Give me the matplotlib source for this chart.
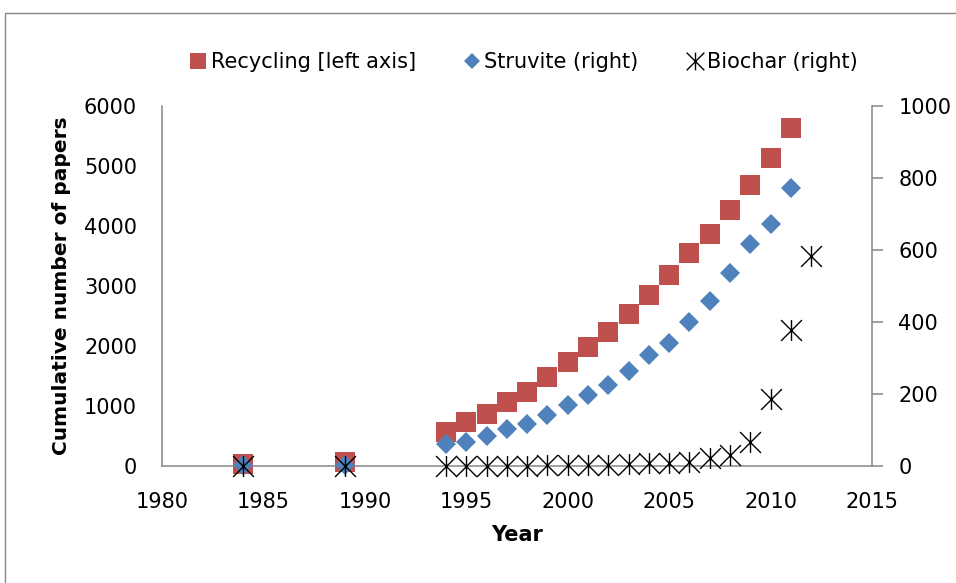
import numpy as np
import matplotlib
matplotlib.use("Agg")
import matplotlib.pyplot as plt
from matplotlib.path import Path
from matplotlib.patches import Rectangle


# cumulative number of papers
years_rec = [1984, 1989] + list(range(1994, 2012))
recycling = [40, 60, 560, 730, 870, 1060, 1230, 1480, 1730, 1980, 2230,
             2540, 2850, 3180, 3550, 3860, 4260, 4690, 5130, 5630]

years_str = [1984, 1989] + list(range(1994, 2012))
struvite = [2, 2, 62, 67, 84, 102, 118, 141, 170, 198, 226,
            263, 307, 343, 399, 459, 537, 616, 672, 773]

years_bio = [1984, 1989] + list(range(1994, 2013))
biochar = [0, 0, 0, 0, 0, 1, 1, 2, 3, 4, 4,
           5, 7, 9, 12, 22, 30, 68, 186, 377, 582]

x_ticks = list(range(1980, 2016, 5))
left_ticks = list(range(0, 6001, 1000))
right_ticks = list(range(0, 1001, 200))

red = '#C0504D'
blue = '#4F81BD'
grey = '#868686'

# asterisk marker like the excel "star"
star = Path([(-1, -1), (1, 1), (-1, 1), (1, -1), (0, -1), (0, 1)],
            [Path.MOVETO, Path.LINETO, Path.MOVETO, Path.LINETO,
             Path.MOVETO, Path.LINETO])

plt.rcParams['font.family'] = ['DejaVu Sans']
fs = 15

fig = plt.figure(figsize=(9.56, 5.83), dpi=100)
fig.patches.append(Rectangle((5/956, -0.1), 1.2, 1.1 - 13/583,
                             transform=fig.transFigure, fill=False,
                             edgecolor=grey, linewidth=1.0))

ax1 = fig.add_axes([162/956, 1 - 466/583, 710/956, 360/583])
ax2 = ax1.twinx()

h1, = ax1.plot(years_rec, recycling, ls='none', marker='s', ms=14,
               color=red, mec=red, mew=0, clip_on=False,
               label='Recycling [left axis]')
h2, = ax2.plot(years_str, struvite, ls='none', marker='D', ms=10,
               color=blue, mec=blue, mew=0, clip_on=False,
               label='Struvite (right)')
h3, = ax2.plot(years_bio, biochar, ls='none', marker=star, ms=15,
               color='black', mec='black', mew=1.0, fillstyle='none',
               clip_on=False, label='Biochar (right)')

ax1.set_xlim(1980, 2015)
ax1.set_ylim(0, 6000)
ax2.set_ylim(0, 1000)
ax1.set_xticks(x_ticks)
ax1.set_yticks(left_ticks)
ax2.set_yticks(right_ticks)

for ax in (ax1, ax2):
    ax.spines['top'].set_visible(False)
    for s in ('left', 'right', 'bottom'):
        ax.spines[s].set_color(grey)
        ax.spines[s].set_linewidth(1.1)

ax1.spines['right'].set_visible(False)
ax2.spines['left'].set_visible(False)
ax2.spines['bottom'].set_visible(False)

ax1.tick_params(axis='x', length=0, pad=19, labelsize=fs, colors='black')
ax1.tick_params(axis='y', length=0, pad=18, labelsize=fs, colors='black')
ax2.tick_params(axis='y', length=8, width=1.1, color=grey, pad=11,
                labelsize=fs, labelcolor='black')

ax1.set_xlabel('Year', fontsize=fs, fontweight='bold', labelpad=9)
ax1.set_ylabel('Cumulative number of papers', fontsize=fs - 0.5,
               fontweight='bold', labelpad=9)

fig.legend(handles=[h1, h2, h3], loc='center',
           bbox_to_anchor=(525/956, 1 - 62/583), ncol=3, frameon=False,
           fontsize=fs, handlelength=0.6, handletextpad=0.3,
           columnspacing=2.4, markerscale=0.85)

fig.savefig('out.png', dpi=100)
